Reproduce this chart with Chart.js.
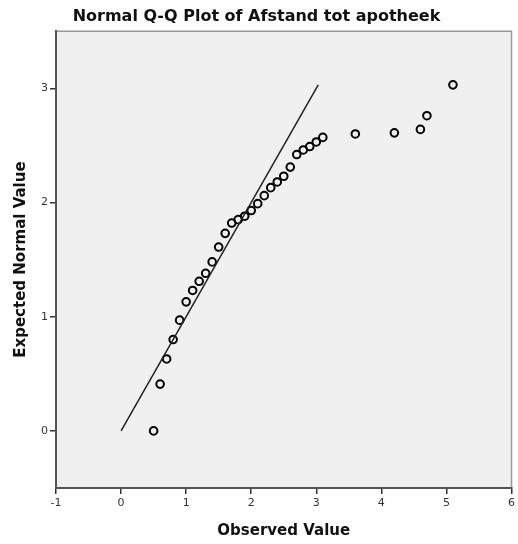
<!DOCTYPE html>
<html>
<head>
<meta charset="utf-8">
<title>Normal Q-Q Plot of Afstand tot apotheek</title>
<script src="https://cdn.jsdelivr.net/npm/chart.js@4/dist/chart.umd.min.js"></script>
<style>
    html, body { margin: 0; padding: 0; background: #ffffff; }
    canvas { display: block; }
</style>
</head>
<body>
<canvas id="qqplot" width="518" height="544"></canvas>
<script>
// Observed distances and their expected normal values
const observed = [0.5, 0.6, 0.7, 0.8, 0.9, 1.0, 1.1, 1.2, 1.3, 1.4, 1.5, 1.6, 1.7, 1.8, 1.9, 2.0,
    2.1, 2.2, 2.3, 2.4, 2.5, 2.6, 2.7, 2.8, 2.9, 3.0, 3.1, 3.6, 4.2, 4.6, 4.7, 5.1];
const expected = [0.00, 0.41, 0.63, 0.80, 0.97, 1.13, 1.23, 1.31, 1.38, 1.48, 1.61, 1.73, 1.82, 1.85, 1.88, 1.93,
    1.99, 2.06, 2.13, 2.18, 2.23, 2.31, 2.42, 2.46, 2.49, 2.53, 2.57, 2.60, 2.61, 2.64, 2.76, 3.03];

// Reference line y = x
const refLine = [0, 3.03];

const xTicks = [-1, 0, 1, 2, 3, 4, 5, 6];
const yTicks = [0, 1, 2, 3];

document.addEventListener("DOMContentLoaded", function() {
    const ctx = document.getElementById('qqplot').getContext('2d');

    // Grey plot area with a thin frame on top and right
    const plotFrame = {
        id: 'plotFrame',
        beforeDraw(chart) {
            const a = chart.chartArea;
            const c = chart.ctx;
            c.save();
            c.fillStyle = '#f0f0f0';
            c.fillRect(a.left, a.top, a.right - a.left, a.bottom - a.top);
            c.strokeStyle = '#9a9a9a';
            c.lineWidth = 1.5;
            c.beginPath();
            c.moveTo(a.left, a.top);
            c.lineTo(a.right, a.top);
            c.lineTo(a.right, a.bottom);
            c.stroke();
            c.restore();
        }
    };

    const pts = observed.map((v, i) => ({ x: v, y: expected[i] }));

    new Chart(ctx, {
        type: 'scatter',
        data: {
            datasets: [{
                type: 'line',
                data: refLine.map(v => ({ x: v, y: v })),
                borderColor: '#222',
                borderWidth: 1.5,
                pointRadius: 0,
                fill: false,
                order: 0
            }, {
                data: pts,
                pointStyle: 'circle',
                pointRadius: 3.8,
                borderWidth: 2,
                borderColor: '#000',
                backgroundColor: 'rgba(0,0,0,0)',
                order: 1
            }]
        },
        options: {
            responsive: false,
            animation: false,
            layout: { padding: { top: 0, right: 5, left: 0, bottom: 0 } },
            plugins: {
                legend: { display: false },
                tooltip: { enabled: false },
                title: {
                    display: true,
                    text: 'Normal Q-Q Plot of Afstand tot apotheek',
                    color: '#111',
                    font: { family: 'DejaVu Sans', size: 16, weight: 'bold' },
                    padding: { top: 7, bottom: 5 }
                }
            },
            scales: {
                x: {
                    type: 'linear',
                    min: -1,
                    max: 6,
                    afterBuildTicks: s => { s.ticks = xTicks.map(v => ({ value: v })); },
                    afterFit: s => { s.height = 56; },
                    ticks: { color: '#333', font: { family: 'DejaVu Sans', size: 11 }, padding: 3, maxRotation: 0 },
                    grid: { drawOnChartArea: false, drawTicks: true, tickLength: 6, color: '#333', lineWidth: 1.5 },
                    border: { display: true, color: '#555', width: 2 },
                    title: {
                        display: true,
                        text: 'Observed Value',
                        color: '#111',
                        font: { family: 'DejaVu Sans', size: 15, weight: 'bold' },
                        padding: { top: 8 }
                    }
                },
                y: {
                    type: 'linear',
                    min: -0.5,
                    max: 3.5,
                    afterBuildTicks: s => { s.ticks = yTicks.map(v => ({ value: v })); },
                    afterFit: s => { s.width = 56; },
                    ticks: { color: '#333', font: { family: 'DejaVu Sans', size: 11 }, padding: 2 },
                    grid: { drawOnChartArea: false, drawTicks: true, tickLength: 6, color: '#333', lineWidth: 1.5 },
                    border: { display: true, color: '#555', width: 2 },
                    title: {
                        display: true,
                        text: 'Expected Normal Value',
                        color: '#111',
                        font: { family: 'DejaVu Sans', size: 15, weight: 'bold' },
                        padding: { top: 12, bottom: 6 }
                    }
                }
            }
        },
        plugins: [plotFrame]
    });
});
</script>
</body>
</html>
